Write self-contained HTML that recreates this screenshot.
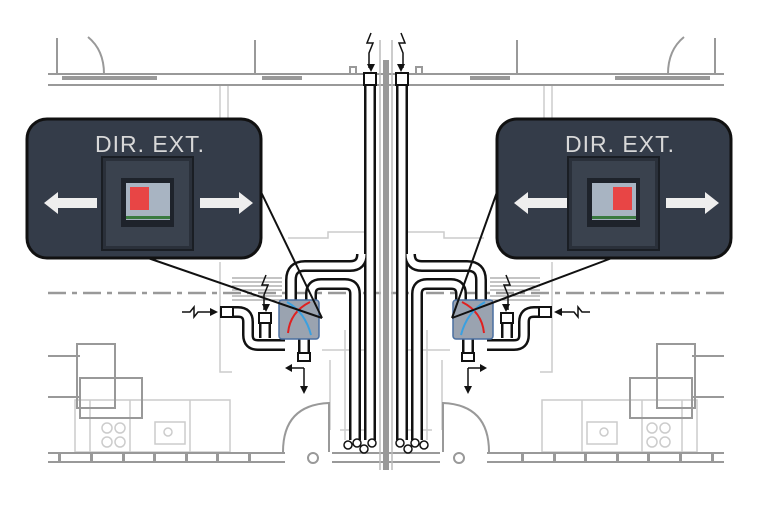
<!DOCTYPE html>
<html><head><meta charset="utf-8"><style>
html,body{margin:0;padding:0;background:#fff;}
svg{display:block}
text{font-family:"Liberation Sans",sans-serif}
</style></head><body>
<svg width="758" height="506" viewBox="0 0 758 506" xmlns="http://www.w3.org/2000/svg">
<defs>
<g id="bld">
  <g stroke="#999" fill="none" stroke-width="2">
    <line x1="48" y1="74" x2="383" y2="74"/>
    <line x1="48" y1="85" x2="383" y2="85"/>
    <line x1="57" y1="38" x2="57" y2="74"/>
    <path d="M88,37 Q104,50 104,74"/>
    <line x1="255" y1="40" x2="255" y2="74"/>
    <path d="M350,73 v-6 h6 v6"/>
  </g>
  <rect x="62" y="76" width="95" height="4" fill="#999"/>
  <rect x="262" y="76" width="40" height="4" fill="#999"/>
  <g stroke="#ccc" fill="none" stroke-width="1.5">
    <line x1="220" y1="86" x2="220" y2="130"/>
    <line x1="228" y1="86" x2="228" y2="130"/>
    <path d="M288,238 h40 v-6 h45"/>
    <path d="M220,262 v110 h12"/>
    <path d="M322,350 h50 M330,360 v70 M340,430 h30"/>
    <rect x="75" y="400" width="155" height="52"/>
    <line x1="90" y1="400" x2="90" y2="452"/>
    <line x1="130" y1="400" x2="130" y2="452"/>
    <line x1="190" y1="400" x2="190" y2="452"/>
    <circle cx="107" cy="428" r="5"/><circle cx="120" cy="428" r="5"/>
    <circle cx="107" cy="442" r="5"/><circle cx="120" cy="442" r="5"/>
    <rect x="155" y="422" width="30" height="22"/>
    <circle cx="168" cy="432" r="4"/>
    <path d="M345,330 v110"/>
  </g>
  <line x1="48" y1="293" x2="383" y2="293" stroke="#999" stroke-width="2.5" stroke-dasharray="18,6,5,6"/>
  <g stroke="#999" fill="none" stroke-width="2">
    <rect x="77" y="344" width="38" height="64"/>
    <rect x="80" y="378" width="62" height="40"/>
    <line x1="48" y1="356" x2="80" y2="356"/>
    <line x1="48" y1="397" x2="80" y2="397"/>
    <path d="M283,452 Q283,405 329,403 V452"/>
    <circle cx="313" cy="458" r="5"/>
  </g>
  <g stroke="#999" fill="none" stroke-width="2">
    <line x1="48" y1="453" x2="285" y2="453"/>
    <line x1="48" y1="462" x2="285" y2="462"/>
    <line x1="332" y1="453" x2="383" y2="453"/>
    <line x1="332" y1="462" x2="383" y2="462"/>
  </g>
  <g fill="#999">
    <rect x="58" y="453" width="3" height="9"/><rect x="90" y="453" width="3" height="9"/>
    <rect x="122" y="453" width="3" height="9"/><rect x="153" y="453" width="3" height="9"/>
    <rect x="185" y="453" width="3" height="9"/><rect x="216" y="453" width="3" height="9"/>
    <rect x="248" y="453" width="3" height="9"/>
  </g>
  <g stroke="#888" stroke-width="1">
    <line x1="232" y1="278" x2="282" y2="278"/><line x1="232" y1="282" x2="282" y2="282"/>
    <line x1="232" y1="286" x2="282" y2="286"/><line x1="232" y1="290" x2="282" y2="290"/>
    <line x1="232" y1="296" x2="282" y2="296"/><line x1="232" y1="300" x2="282" y2="300"/>
  </g>
  <g fill="none" stroke="#111" stroke-width="12" stroke-linejoin="round">
    <path d="M370,84 V440"/>
    <path d="M291,302 V280 Q291,266 305,266 H350 Q362,266 362,254"/>
    <path d="M311,302 V294 Q311,284 321,284 H345 Q355,284 355,294 V440"/>
    <path d="M226,312 H238 Q248,312 248,322 V335 Q248,345 258,345 H285"/>
    <path d="M265,314 V338"/>
    <path d="M304,338 V356"/>
  </g>
  <g fill="none" stroke="#fff" stroke-width="7" stroke-linejoin="round">
    <path d="M370,84 V440"/>
    <path d="M291,302 V280 Q291,266 305,266 H350 Q362,266 362,254"/>
    <path d="M311,302 V294 Q311,284 321,284 H345 Q355,284 355,294 V440"/>
    <path d="M226,312 H238 Q248,312 248,322 V335 Q248,345 258,345 H285"/>
    <path d="M265,314 V338"/>
    <path d="M304,338 V356"/>
  </g>
  <rect x="364" y="73" width="12" height="12" fill="#fff" stroke="#111" stroke-width="2"/>
  <rect x="221" y="307" width="12" height="10" fill="#fff" stroke="#111" stroke-width="2"/>
  <rect x="259" y="313" width="12" height="10" fill="#fff" stroke="#111" stroke-width="2"/>
  <rect x="298" y="353" width="12" height="8" fill="#fff" stroke="#111" stroke-width="2"/>
  <g fill="#fff" stroke="#111" stroke-width="1.5">
    <circle cx="348" cy="445" r="4"/><circle cx="357" cy="443" r="4"/>
    <circle cx="364" cy="449" r="4"/><circle cx="372" cy="443" r="4"/>
  </g>
  <rect x="279" y="300" width="40" height="39" rx="3" fill="#9aa3b0" stroke="#4a6fa0" stroke-width="1.5"/>
  <path d="M288,333 Q290,312 310,302" fill="none" stroke="#e02020" stroke-width="2"/>
  <path d="M287,302 Q305,312 311,335" fill="none" stroke="#3aa0e0" stroke-width="2"/>
  <g fill="none" stroke="#111" stroke-width="1.5">
    <path d="M371,33 l-4,10 h6 l-4,10 V68"/>
    <path d="M266,275 l-4,10 h6 l-4,10 V310"/>
    <path d="M182,312 h8 l4,-5 l0,10 l4,-5 h16"/>
    <path d="M304,368 V390 M304,368 H290"/>
  </g>
  <g fill="#111">
    <path d="M367,64 h8 l-4,8z"/>
    <path d="M262,304 h8 l-4,8z"/>
    <path d="M210,308 v8 l8,-4z"/>
    <path d="M300,386 h8 l-4,8z"/>
    <path d="M292,364 v8 l-7,-4z"/>
  </g>
</g>
</defs>
<use href="#bld"/>
<use href="#bld" transform="translate(772,0) scale(-1,1)"/>
<rect x="383" y="60" width="6" height="410" fill="#999"/>
<line x1="380" y1="40" x2="380" y2="470" stroke="#bbb" stroke-width="1.5"/>
<line x1="392" y1="40" x2="392" y2="470" stroke="#bbb" stroke-width="1.5"/>

<g stroke="#111" stroke-width="2" fill="none">
  <line x1="261" y1="192" x2="322" y2="318"/>
  <line x1="148" y1="258" x2="322" y2="318"/>
  <line x1="497" y1="192" x2="452" y2="318"/>
  <line x1="612" y1="258" x2="452" y2="318"/>
</g>
<g>
  <rect x="27" y="119" width="234" height="139" rx="20" fill="#343c49" stroke="#111" stroke-width="3"/>
  <text x="150" y="152" text-anchor="middle" font-size="23" fill="#d8d8d8" letter-spacing="1">DIR.  EXT.</text>
  <rect x="102" y="157" width="91" height="93" fill="#2a303a" stroke="#1a1e24" stroke-width="2"/>
  <rect x="106" y="161" width="83" height="85" fill="#3a424e"/>
  <rect x="121" y="178" width="53" height="49" fill="#1e232b"/>
  <rect x="126" y="183" width="44" height="37" fill="#a8b4c2"/>
  <rect x="130" y="187" width="19" height="23" fill="#e84545"/>
  <rect x="126" y="216" width="44" height="3" fill="#3a7a40"/>
  <path d="M44,203 l14,-11 v6 h39 v10 h-39 v6z" fill="#eee"/>
  <path d="M253,203 l-14,-11 v6 h-39 v10 h39 v6z" fill="#eee"/>
</g>
<g>
  <rect x="497" y="119" width="234" height="139" rx="20" fill="#343c49" stroke="#111" stroke-width="3"/>
  <text x="620" y="152" text-anchor="middle" font-size="23" fill="#d8d8d8" letter-spacing="1">DIR.  EXT.</text>
  <rect x="568" y="157" width="91" height="93" fill="#2a303a" stroke="#1a1e24" stroke-width="2"/>
  <rect x="572" y="161" width="83" height="85" fill="#3a424e"/>
  <rect x="587" y="178" width="53" height="49" fill="#1e232b"/>
  <rect x="592" y="183" width="44" height="37" fill="#a8b4c2"/>
  <rect x="613" y="187" width="19" height="23" fill="#e84545"/>
  <rect x="592" y="216" width="44" height="3" fill="#3a7a40"/>
  <path d="M514,203 l14,-11 v6 h39 v10 h-39 v6z" fill="#eee"/>
  <path d="M719,203 l-14,-11 v6 h-39 v10 h39 v6z" fill="#eee"/>
</g>
</svg>
</body></html>
